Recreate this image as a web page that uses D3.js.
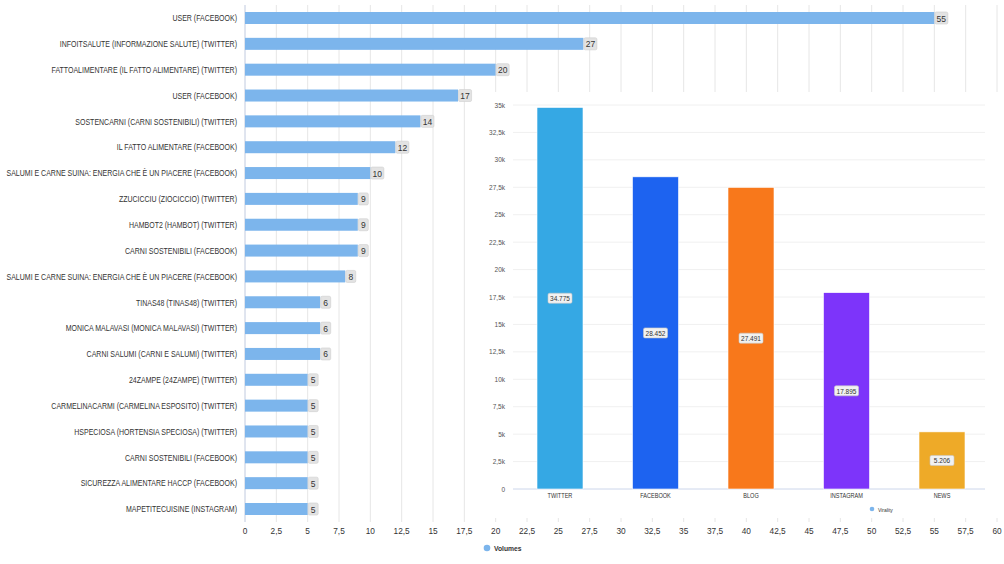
<!DOCTYPE html>
<html><head><meta charset="utf-8">
<script src="https://cdn.jsdelivr.net/npm/d3@7"></script>
<style>body{margin:0;background:#fff}svg{display:block;font-family:"Liberation Sans",Arial,sans-serif}</style>
</head><body><svg id="c" width="1004" height="564"></svg>
<script>
const categories = [
 "USER (FACEBOOK)",
 "INFOITSALUTE (INFORMAZIONE SALUTE) (TWITTER)",
 "FATTOALIMENTARE (IL FATTO ALIMENTARE) (TWITTER)",
 "USER (FACEBOOK)",
 "SOSTENCARNI (CARNI SOSTENIBILI) (TWITTER)",
 "IL FATTO ALIMENTARE (FACEBOOK)",
 "SALUMI E CARNE SUINA: ENERGIA CHE È UN PIACERE (FACEBOOK)",
 "ZZUCICCIU (ZIOCICCIO) (TWITTER)",
 "HAMBOT2 (HAMBOT) (TWITTER)",
 "CARNI SOSTENIBILI (FACEBOOK)",
 "SALUMI E CARNE SUINA: ENERGIA CHE È UN PIACERE (FACEBOOK)",
 "TINAS48 (TINAS48) (TWITTER)",
 "MONICA MALAVASI (MONICA MALAVASI) (TWITTER)",
 "CARNI SALUMI (CARNI E SALUMI) (TWITTER)",
 "24ZAMPE (24ZAMPE) (TWITTER)",
 "CARMELINACARMI (CARMELINA ESPOSITO) (TWITTER)",
 "HSPECIOSA (HORTENSIA SPECIOSA) (TWITTER)",
 "CARNI SOSTENIBILI (FACEBOOK)",
 "SICUREZZA ALIMENTARE HACCP (FACEBOOK)",
 "MAPETITECUISINE (INSTAGRAM)"
];
const volumes = [55,27,20,17,14,12,10,9,9,9,8,6,6,6,5,5,5,5,5,5];
const volumeTicks = [0,2.5,5,7.5,10,12.5,15,17.5,20,22.5,25,27.5,30,32.5,35,37.5,40,42.5,45,47.5,50,52.5,55,57.5,60];

const channels = ["TWITTER","FACEBOOK","BLOG","INSTAGRAM","NEWS"];
const virality = [34775,28452,27491,17895,5206];
const channelColors = ["#35a8e4","#1d63f0","#f8781b","#7d34fa","#eeaa28"];
const viralityTicks = [0,2500,5000,7500,10000,12500,15000,17500,20000,22500,25000,27500,30000,32500,35000];

const svg = d3.select("#c");
const SX = 0.815;
function txt(g, x, y, s, size, anchor, fill, weight, sx) {
  return g.append("text")
    .attr("transform", `translate(${x},${y}) scale(${sx||1},1)`)
    .attr("text-anchor", anchor).attr("dominant-baseline","central")
    .attr("font-size", size).attr("fill", fill).attr("font-weight", weight||"normal")
    .text(s);
}
const itFmt = v => String(v).replace(".", ",");
const thFmt = v => d3.format(",")(v).replace(/,/g, ".");

// ---------- Chart 1: horizontal bars ----------
const x = d3.scaleLinear().domain([0,60]).range([245,997]);
const y = d3.scalePoint().domain(d3.range(categories.length)).range([18,509]);
const BH = 12;
const g1 = svg.append("g");
g1.selectAll("line.grid").data(volumeTicks).join("line")
  .attr("x1", d=>x(d)).attr("x2", d=>x(d)).attr("y1",5).attr("y2",522)
  .attr("stroke","#e6e6e6").attr("stroke-width",1);
g1.append("line").attr("x1",x(0)).attr("x2",x(0)).attr("y1",5).attr("y2",522).attr("stroke","#ccd6eb");
g1.selectAll("rect.bar").data(volumes).join("rect")
  .attr("x", x(0)).attr("y",(d,i)=>y(i)-BH/2).attr("width", d=>x(d)-x(0)).attr("height", BH)
  .attr("fill","#7cb5ec");
volumes.forEach((v,i)=>{
  const w = String(v).length>1 ? 13 : 10;
  const cy = y(i);
  g1.append("rect").attr("x", x(v)+0.5).attr("y", cy-6).attr("width", w).attr("height", 12)
    .attr("rx",1.5).attr("fill","#e3e3e3").attr("stroke","#cfcfcf").attr("stroke-width",0.6);
  txt(g1, x(v)+0.5+w/2, cy+0.5, String(v), 8.5, "middle", "#333");
});
categories.forEach((c,i)=>{
  txt(g1, 237, y(i)+0.5, c, 8.6, "end", "#333", "normal", SX);
});
volumeTicks.forEach(t=>{
  txt(g1, x(t), 531, itFmt(t), 8.3, "middle", "#333");
});
g1.append("circle").attr("cx",487).attr("cy",548).attr("r",3.3).attr("fill","#7cb5ec");
txt(g1, 494, 548.5, "Volumes", 7.5, "start", "#333", "bold", 0.9);

// ---------- Chart 2: vertical bars (overlay) ----------
const g2 = svg.append("g");
g2.append("rect").attr("x",483).attr("y",92).attr("width",515).attr("height",426).attr("fill","#fff");
const y2 = d3.scaleLinear().domain([0,35000]).range([489,105]);
const x2 = d3.scalePoint().domain(channels).range([560,942]);
const BW = 46;
g2.selectAll("line.g2").data(viralityTicks).join("line")
  .attr("x1",513).attr("x2",985).attr("y1",d=>y2(d)).attr("y2",d=>y2(d))
  .attr("stroke",(d)=> d===0 ? "#ccd6eb" : "#f0f0f0").attr("stroke-width",1);
viralityTicks.forEach(t=>{
  txt(g2, 505, y2(t), t===0 ? "0" : itFmt(t/1000)+"k", 6.5, "end", "#555");
});
g2.selectAll("rect.vbar").data(virality).join("rect")
  .attr("x",(d,i)=>x2(channels[i])-BW/2).attr("y",d=>y2(d)).attr("width",BW)
  .attr("height",d=>y2(0)-y2(d)).attr("fill",(d,i)=>channelColors[i])
  .attr("stroke","#fff").attr("stroke-width",0.6);
virality.forEach((v,i)=>{
  const cx = x2(channels[i]);
  const cy = (y2(v)+y2(0))/2;
  g2.append("rect").attr("x",cx-12).attr("y",cy-5).attr("width",24).attr("height",10)
    .attr("rx",1.5).attr("fill","#f1f1f1").attr("stroke","#c8c8c8").attr("stroke-width",0.6);
  txt(g2, cx, cy+0.5, thFmt(v), 6.5, "middle", "#333");
});
channels.forEach(c=>{
  txt(g2, x2(c), 496, c, 6.5, "middle", "#333", "normal", 0.86);
});
g2.append("circle").attr("cx",872).attr("cy",509).attr("r",2.3).attr("fill","#7cb5ec");
txt(g2, 878, 509.5, "Virality", 5.5, "start", "#333", "normal", 0.9);
</script></body></html>
